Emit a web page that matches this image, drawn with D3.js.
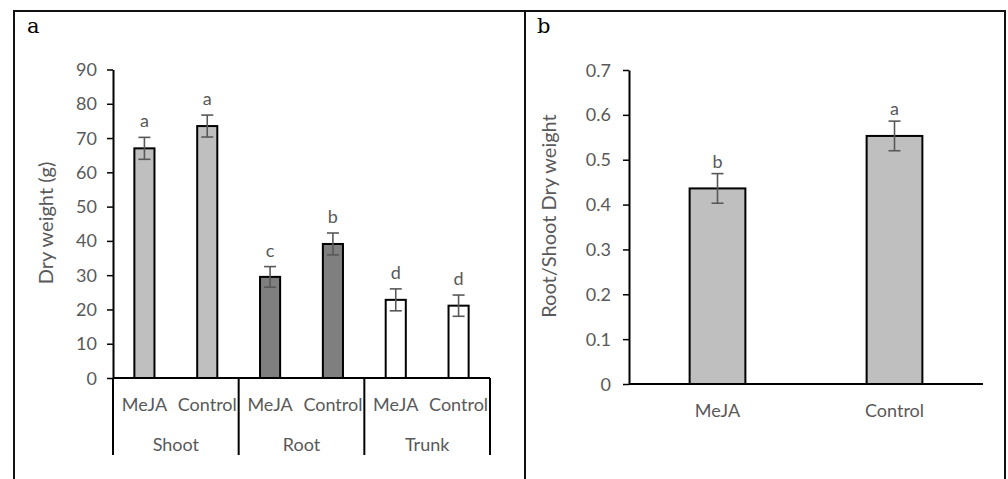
<!DOCTYPE html>
<html>
<head>
<meta charset="utf-8">
<script src="https://cdn.jsdelivr.net/npm/d3@7"></script>
<style>
  html, body { margin: 0; padding: 0; background: #fff; }
  svg { display: block; }
</style>
</head>
<body>
<script>
// ---------- data ----------
const groupLabels = ["Shoot", "Root", "Trunk"];
const treatmentLabels = ["MeJA", "Control"];
const dryWeight = [67.0, 73.5, 29.5, 39.1, 22.8, 21.1];
const dryWeightErr = [3.2, 3.2, 3.0, 3.2, 3.2, 3.1];
const dryWeightLetters = ["a", "a", "c", "b", "d", "d"];
const dryWeightTicks = [0, 10, 20, 30, 40, 50, 60, 70, 80, 90];

const ratioCategories = ["MeJA", "Control"];
const ratioValues = [0.436, 0.553];
const ratioErr = [0.033, 0.033];
const ratioLetters = ["b", "a"];
const ratioTicks = [0, 0.1, 0.2, 0.3, 0.4, 0.5, 0.6, 0.7];

// ---------- style ----------
const W = 1008, H = 479;
const FONT = "Lato, 'Open Sans', sans-serif";
const FS = 18;          // tick / label font size
const FS_T = 20;        // axis title font size
const TXT = "#595959";
const groupFill = ["#bfbfbf", "#7f7f7f", "#ffffff"];

const svg = d3.select("body").append("svg").attr("width", W).attr("height", H);
svg.append("rect").attr("width", W).attr("height", H).attr("fill", "#fff");

function stext(g, x, y, str, anchor, rotate, size) {
  return g.append("text")
    .attr("transform", `translate(${x},${y})` + (rotate ? ` rotate(${rotate})` : ""))
    .attr("text-anchor", anchor || "middle")
    .attr("font-family", FONT)
    .attr("font-size", size || FS)
    .attr("fill", TXT)
    .text(str);
}

// ---------- panel frames ----------
const frame = svg.append("g").attr("stroke", "#111").attr("stroke-width", 2).attr("fill", "none");
frame.append("line").attr("x1", 13).attr("x2", 1006).attr("y1", 11).attr("y2", 11);
[14, 525, 1005].forEach(x => frame.append("line").attr("x1", x).attr("x2", x).attr("y1", 10).attr("y2", H + 2));

svg.append("text").attr("x", 27).attr("y", 33).attr("font-family", "'DejaVu Serif', serif")
  .attr("font-size", 21).attr("fill", "#000").text("a");
svg.append("text").attr("x", 537).attr("y", 33).attr("font-family", "'DejaVu Serif', serif")
  .attr("font-size", 21).attr("fill", "#000").text("b");

// ---------- panel a ----------
const ga = svg.append("g");
const slots = d3.range(groupLabels.length * treatmentLabels.length);
const xA = d3.scaleBand().domain(slots).range([113, 490]).padding(0);
const yA = d3.scaleLinear().domain([0, 90]).range([378, 69.5]);
const barFrac = 0.32;

ga.selectAll("rect.bar").data(dryWeight).join("rect")
  .attr("class", "bar")
  .attr("x", (d, i) => xA(i) + xA.bandwidth() * (1 - barFrac) / 2)
  .attr("width", xA.bandwidth() * barFrac)
  .attr("y", d => yA(d))
  .attr("height", d => yA(0) - yA(d))
  .attr("fill", (d, i) => groupFill[Math.floor(i / 2)])
  .attr("stroke", "#000").attr("stroke-width", 2);

const errA = ga.append("g").attr("stroke", "#595959").attr("stroke-width", 1.6);
dryWeight.forEach((v, i) => {
  const cx = xA(i) + xA.bandwidth() / 2;
  const e = dryWeightErr[i];
  errA.append("line").attr("x1", cx).attr("x2", cx).attr("y1", yA(v - e)).attr("y2", yA(v + e));
  [v - e, v + e].forEach(y => errA.append("line").attr("x1", cx - 6).attr("x2", cx + 6).attr("y1", yA(y)).attr("y2", yA(y)));
  stext(ga, cx, yA(v + e) - 10, dryWeightLetters[i]);
});

const axA = ga.append("g").attr("transform", `translate(${xA.range()[0]},0)`)
  .call(d3.axisLeft(yA).tickValues(dryWeightTicks).tickSize(6).tickSizeOuter(0).tickPadding(0));
axA.select(".domain").attr("stroke", "#000").attr("stroke-width", 2);
axA.selectAll(".tick line").attr("stroke", "#000").attr("stroke-width", 1.5);
axA.selectAll(".tick text").remove();
dryWeightTicks.forEach(t => stext(ga, xA.range()[0] - 16, yA(t) + 6.5, String(t), "end"));

ga.append("line").attr("x1", xA.range()[0]).attr("x2", xA.range()[1])
  .attr("y1", yA(0)).attr("y2", yA(0)).attr("stroke", "#000").attr("stroke-width", 2);
const seps = [0, 2, 4].map(i => xA(i)).concat([xA.range()[1]]);
seps.forEach(x => ga.append("line").attr("x1", x).attr("x2", x)
  .attr("y1", yA(0)).attr("y2", yA(0) + 77).attr("stroke", "#000").attr("stroke-width", 2));
slots.forEach(i => stext(ga, xA(i) + xA.bandwidth() / 2, yA(0) + 33, treatmentLabels[i % 2]));
groupLabels.forEach((g, k) => stext(ga, (xA(2 * k) + xA(2 * k + 1) + xA.bandwidth()) / 2, yA(0) + 73, g));

stext(ga, 53, 223, "Dry weight (g)", "middle", -90, FS_T);

// ---------- panel b ----------
const gb = svg.append("g");
const xB = d3.scaleBand().domain(ratioCategories).range([629, 983]).padding(0);
const yB = d3.scaleLinear().domain([0, 0.7]).range([384, 70]);
const barFracB = 0.315;

gb.selectAll("rect.bar").data(ratioValues).join("rect")
  .attr("class", "bar")
  .attr("x", (d, i) => xB(ratioCategories[i]) + xB.bandwidth() * (1 - barFracB) / 2)
  .attr("width", xB.bandwidth() * barFracB)
  .attr("y", d => yB(d))
  .attr("height", d => yB(0) - yB(d))
  .attr("fill", "#bfbfbf")
  .attr("stroke", "#000").attr("stroke-width", 2);

const errB = gb.append("g").attr("stroke", "#595959").attr("stroke-width", 1.6);
ratioValues.forEach((v, i) => {
  const cx = xB(ratioCategories[i]) + xB.bandwidth() / 2;
  const e = ratioErr[i];
  errB.append("line").attr("x1", cx).attr("x2", cx).attr("y1", yB(v - e)).attr("y2", yB(v + e));
  [v - e, v + e].forEach(y => errB.append("line").attr("x1", cx - 6).attr("x2", cx + 6).attr("y1", yB(y)).attr("y2", yB(y)));
  stext(gb, cx, yB(v + e) - 6, ratioLetters[i]);
});

const fmtB = d3.format(".1~f");
const axB = gb.append("g").attr("transform", `translate(${xB.range()[0]},0)`)
  .call(d3.axisLeft(yB).tickValues(ratioTicks).tickSize(6).tickSizeOuter(0).tickPadding(0));
axB.select(".domain").attr("stroke", "#000").attr("stroke-width", 2);
axB.selectAll(".tick line").attr("stroke", "#000").attr("stroke-width", 1.5);
axB.selectAll(".tick text").remove();
ratioTicks.forEach(t => stext(gb, xB.range()[0] - 18, yB(t) + 6.5, fmtB(t), "end"));

gb.append("line").attr("x1", xB.range()[0]).attr("x2", xB.range()[1])
  .attr("y1", yB(0)).attr("y2", yB(0)).attr("stroke", "#000").attr("stroke-width", 2);
ratioCategories.forEach(c => stext(gb, xB(c) + xB.bandwidth() / 2, yB(0) + 33, c));

stext(gb, 556, 216, "Root/Shoot Dry weight", "middle", -90, FS_T);
</script>
</body>
</html>
